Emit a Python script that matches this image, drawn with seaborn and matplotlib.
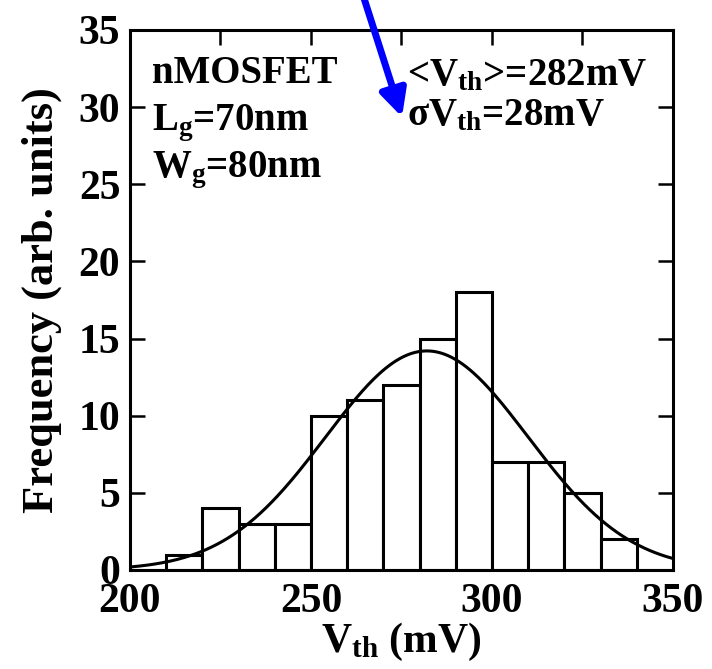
import numpy as np
import seaborn as sns
import matplotlib.pyplot as plt
from matplotlib.ticker import MultipleLocator

# histogram of Vth, 10 mV bins
bin_edges = [200, 210, 220, 230, 240, 250, 260, 270, 280, 290, 300, 310, 320, 330, 340, 350]
bin_centers = [205, 215, 225, 235, 245, 255, 265, 275, 285, 295, 305, 315, 325, 335, 345]
counts = [0, 1, 4, 3, 3, 10, 11, 12, 15, 18, 7, 7, 5, 2, 0]

# gaussian fit (values printed on the chart)
vth_mean = 282
vth_sigma = 28
fit_peak = 14.2

x_ticks = [200, 250, 300, 350]
y_ticks = [0, 5, 10, 15, 20, 25, 30, 35]

sns.set_style('ticks')
plt.rcParams['font.family'] = ['Liberation Serif', 'DejaVu Serif']
plt.rcParams['font.weight'] = 'bold'
plt.rcParams['mathtext.fontset'] = 'custom'
plt.rcParams['mathtext.rm'] = 'Liberation Serif:bold'
plt.rcParams['mathtext.it'] = 'Liberation Serif:bold'
plt.rcParams['mathtext.bf'] = 'Liberation Serif:bold'
for k in ['text.color', 'axes.labelcolor', 'xtick.color', 'ytick.color', 'axes.edgecolor']:
    plt.rcParams[k] = 'black'

fig = plt.figure(figsize=(7.12, 6.69), dpi=100)
ax = fig.add_axes([130 / 712, 1 - 570 / 669, 543 / 712, 540 / 669])

sns.histplot(x=bin_centers, weights=counts, bins=bin_edges, ax=ax,
             color='white', edgecolor='black', linewidth=2.2, alpha=1)

xs = np.linspace(200, 350, 300)
fit = fit_peak * np.exp(-0.5 * ((xs - vth_mean) / vth_sigma) ** 2)
sns.lineplot(x=xs, y=fit, ax=ax, color='black', linewidth=2.2)

ax.set_xlim(200, 350)
ax.set_ylim(0, 35)
ax.set_xticks(x_ticks)
ax.set_yticks(y_ticks)
ax.xaxis.set_minor_locator(MultipleLocator(25))
ax.tick_params(which='both', direction='in', top=True, right=True,
               length=11, width=1.8, labelsize=30)
ax.tick_params(axis='x', pad=9)
ax.tick_params(axis='y', pad=7)
for s in ax.spines.values():
    s.set_linewidth(2.2)

ax.set_xlabel(r'V$_\mathrm{th}$ (mV)', fontsize=30, fontweight='bold', labelpad=0)
ax.set_ylabel('Frequency (arb. units)', fontsize=32, fontweight='bold', labelpad=12)

fs = 28
ax.text(206, 31.56, 'nMOSFET', fontsize=fs, fontweight='bold', va='baseline')
ax.text(206, 28.5, r'L$_\mathrm{g}$=70nm', fontsize=fs, fontweight='bold', va='baseline')
ax.text(206, 25.47, r'W$_\mathrm{g}$=80nm', fontsize=fs, fontweight='bold', va='baseline')
ax.text(276.5, 31.43, r'<V$_\mathrm{th}$>=282mV', fontsize=fs, fontweight='bold', va='baseline')
ax.text(276.5, 28.84, r'σV$_\mathrm{th}$=28mV', fontsize=fs, fontweight='bold', va='baseline')

# blue arrow coming in from the top edge
ax.annotate('', xy=(402 / 712, 1 - 117 / 669), xycoords='figure fraction',
            xytext=(362 / 712, 1 + 8 / 669), textcoords='figure fraction',
            arrowprops=dict(arrowstyle='-|>', color='#0000ff', lw=5,
                            mutation_scale=40, shrinkA=0, shrinkB=0),
            annotation_clip=False)

plt.savefig('out.png', dpi=100)
